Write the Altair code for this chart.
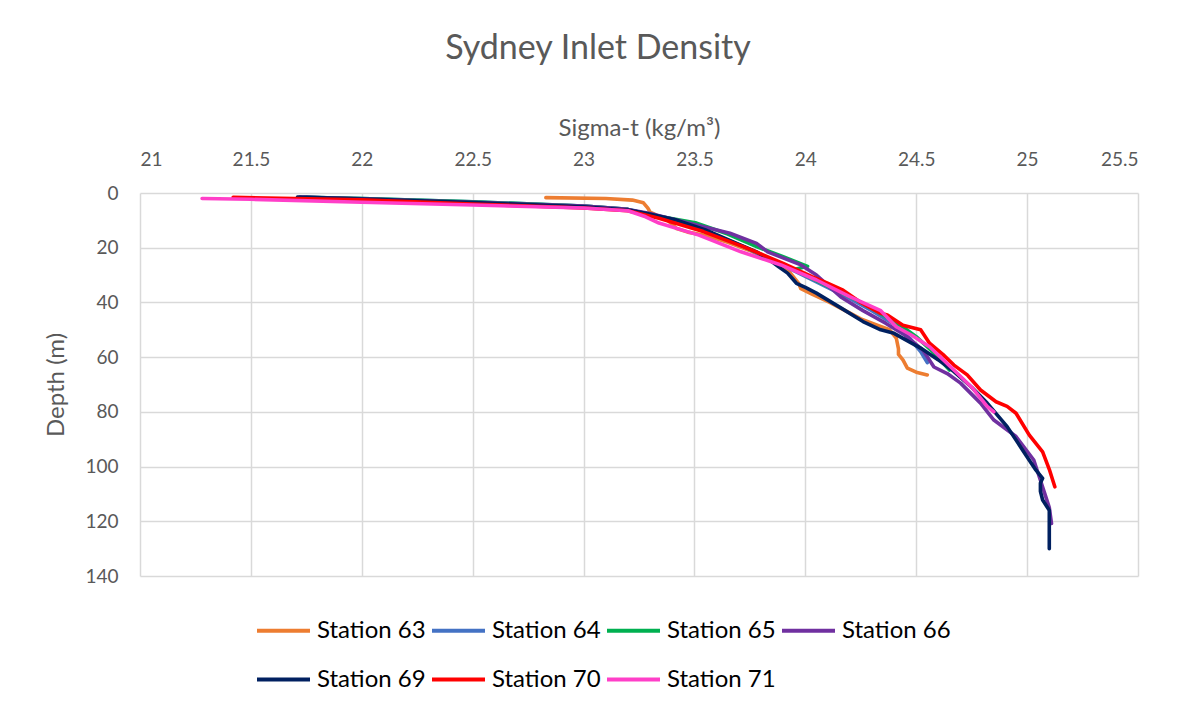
import altair as alt
import pandas as pd

stations = ["Station 63", "Station 64", "Station 65", "Station 66", "Station 69", "Station 70", "Station 71"]
colors = ["#ED7D31", "#4472C4", "#00B050", "#7030A0", "#002060", "#FF0000", "#FF3FC8"]

s63_sigma = [22.83, 23.10, 23.22, 23.27, 23.29, 23.30, 23.38, 23.42, 23.47, 23.55, 23.65, 23.75, 23.85, 23.93, 23.97, 23.98, 24.03, 24.11, 24.18, 24.25, 24.33, 24.38, 24.41, 24.42, 24.42, 24.44, 24.46, 24.50, 24.55]
s63_depth = [1.7, 2.0, 2.6, 3.6, 5.5, 7.0, 10, 13, 14.3, 15.5, 18, 21, 25, 29, 33, 35, 37, 40, 43, 46, 48.5, 50, 53, 57, 59, 61, 64, 65.5, 66.5]

s64_sigma = [21.74, 22.0, 22.5, 23.0, 23.2, 23.32, 23.45, 23.6, 23.72, 23.82, 23.9, 24.0, 24.1, 24.2, 24.3, 24.4, 24.47, 24.52, 24.55]
s64_depth = [1.6, 2.0, 3.2, 4.8, 6.0, 8.3, 11.5, 15.5, 19.5, 23.5, 26.5, 30.5, 34.5, 38.5, 43, 48, 53, 58, 62]

s65_sigma = [21.75, 22.0, 22.5, 23.0, 23.2, 23.32, 23.51, 23.65, 23.78, 23.90, 24.01, 23.95, 24.05, 24.15, 24.26, 24.36, 24.44, 24.50, 24.58, 24.65]
s65_depth = [1.6, 2.0, 3.2, 4.8, 6.0, 8.2, 11, 15, 19.6, 23.3, 26.8, 28, 32, 36, 40.3, 45, 49, 52.5, 58.5, 64.7]

s66_sigma = [21.72, 22.0, 22.5, 23.0, 23.2, 23.3, 23.45, 23.66, 23.78, 23.83, 23.98, 24.05, 24.16, 24.26, 24.36, 24.45, 24.53, 24.58, 24.64, 24.70, 24.79, 24.85, 24.95, 25.03, 25.06, 25.08, 25.10, 25.11]
s66_depth = [1.5, 2.1, 3.4, 4.8, 6.0, 7.5, 10.5, 14.7, 18.4, 21.5, 26.3, 30, 38, 43, 47.5, 52, 57.4, 63.6, 66, 69.5, 76.8, 83, 89, 97.6, 105, 110, 115, 120.8]

s69_sigma = [21.71, 22.0, 22.5, 23.0, 23.2, 23.28, 23.42, 23.55, 23.69, 23.78, 23.84, 23.88, 23.92, 23.96, 24.0, 24.05, 24.16, 24.26, 24.34, 24.40, 24.52, 24.60, 24.67, 24.75, 24.82, 24.91, 24.98, 25.04, 25.07, 25.06, 25.06, 25.07, 25.10, 25.10, 25.10, 25.10]
s69_depth = [1.5, 2.2, 3.5, 5.0, 6.2, 7.4, 9.9, 13.5, 18.4, 21.5, 24.5, 27, 29.3, 33, 34.5, 36.6, 42, 47, 50, 51.3, 56.7, 61, 65.3, 71, 76.8, 85.4, 94, 101.3, 104.3, 106, 109, 112.2, 116, 119.6, 125.7, 130]

s70_sigma = [21.42, 22.0, 22.5, 23.0, 23.2, 23.34, 23.54, 23.72, 23.90, 24.03, 24.10, 24.17, 24.25, 24.34, 24.37, 24.44, 24.52, 24.56, 24.62, 24.67, 24.73, 24.79, 24.86, 24.91, 24.95, 25.01, 25.07, 25.10, 25.125]
s70_depth = [1.6, 2.5, 4.0, 5.5, 6.5, 9.2, 14.1, 19.6, 25.7, 30.6, 33, 35.5, 40, 44, 44.6, 48.3, 50, 54.9, 59, 62.9, 66.5, 72, 76.3, 78, 80.5, 88.5, 94.6, 101, 107.4]

s71_sigma = [21.28, 21.5, 22.0, 22.5, 23.0, 23.2, 23.28, 23.34, 23.52, 23.71, 23.89, 24.05, 24.20, 24.34, 24.41, 24.48, 24.56, 24.67, 24.75, 24.82, 24.85]
s71_depth = [2.0, 2.3, 3.4, 4.4, 5.5, 6.5, 8.7, 11, 15.4, 21.5, 26.3, 31.8, 37.9, 43, 48.9, 52, 56.2, 64.7, 71, 78, 80]

series = [
    (stations[0], s63_sigma, s63_depth),
    (stations[1], s64_sigma, s64_depth),
    (stations[2], s65_sigma, s65_depth),
    (stations[3], s66_sigma, s66_depth),
    (stations[4], s69_sigma, s69_depth),
    (stations[5], s70_sigma, s70_depth),
    (stations[6], s71_sigma, s71_depth),
]

rows = []
for name, sig, dep in series:
    for i, (s, d) in enumerate(zip(sig, dep)):
        rows.append({"station": name, "sigma": s, "depth": d, "idx": i})
df = pd.DataFrame(rows)

x_ticks = [21, 21.5, 22, 22.5, 23, 23.5, 24, 24.5, 25, 25.5]
y_ticks = [0, 20, 40, 60, 80, 100, 120, 140]

FONT = "Lato"
GRAY = "#595959"

chart = alt.Chart(df).mark_line(strokeWidth=3.6, strokeJoin="round", strokeCap="round").encode(
    x=alt.X("sigma:Q",
            scale=alt.Scale(domain=[21, 25.5], nice=False, zero=False),
            axis=alt.Axis(orient="top", values=x_ticks, title="Sigma-t (kg/m³)",
                          format="~g", ticks=False, domain=False,
                          labelPadding=24, titlePadding=10,
                          labelFontSize=19, titleFontSize=24,
                          labelColor=GRAY, titleColor=GRAY,
                          titleFontWeight="normal", labelFont=FONT, titleFont=FONT,
                          gridColor="#d9d9d9", gridWidth=1.5)),
    y=alt.Y("depth:Q",
            scale=alt.Scale(domain=[0, 140], reverse=True, nice=False),
            axis=alt.Axis(values=y_ticks, title="Depth (m)", ticks=False, domain=False,
                          labelPadding=22, titlePadding=16,
                          labelFontSize=19, titleFontSize=24,
                          labelColor=GRAY, titleColor=GRAY,
                          titleFontWeight="normal", labelFont=FONT, titleFont=FONT,
                          gridColor="#d9d9d9", gridWidth=1.5)),
    color=alt.Color("station:N",
                    scale=alt.Scale(domain=stations, range=colors),
                    legend=alt.Legend(title=None, orient="none", legendX=115, legendY=409,
                                      direction="horizontal",
                                      columns=4, symbolType="stroke", symbolSize=2809,
                                      symbolStrokeWidth=3.8, labelFontSize=24,
                                      labelFont=FONT, labelColor="#000000",
                                      labelOffset=5, columnPadding=-2, rowPadding=8)),
    order="idx:Q",
).properties(
    width=998,
    height=383,
    title=alt.TitleParams("Sydney Inlet Density", fontSize=34, font=FONT, color=GRAY,
                          fontWeight="normal", anchor="middle", dx=-41, offset=50),
    padding={"left": 132, "top": 185, "right": 30, "bottom": 130},
    autosize=alt.AutoSizeParams(type="none"),
).configure_view(stroke=None)

chart.save("out.html", embed_options={"renderer": "svg", "actions": False})
